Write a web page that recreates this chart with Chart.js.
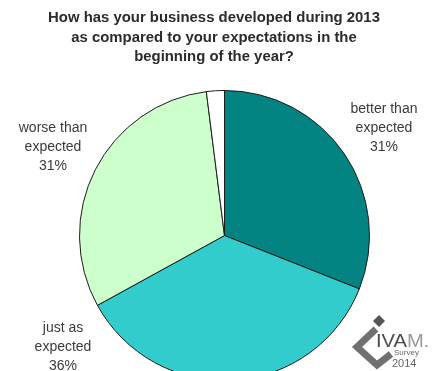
<!DOCTYPE html>
<html>
<head>
<meta charset="utf-8">
<script src="https://cdn.jsdelivr.net/npm/chart.js@4/dist/chart.umd.min.js"></script>
<style>
  html, body { margin:0; padding:0; background:#fff; overflow:hidden; }
  #wrap { width:432px; height:371px; overflow:hidden; position:relative; }
</style>
</head>
<body>
<div id="wrap"><canvas id="pie" width="432" height="400"></canvas></div>
<script>
// données
const categories = ['better than expected', 'just as expected', 'worse than expected', 'no answer'];
const valeurs = [31, 36, 31, 2];
const couleurs = ['#038382', '#33cccc', '#ccffcc', '#ffffff'];
const titre = ['How has your business developed during 2013',
               'as compared to your expectations in the',
               'beginning of the year?'];
// étiquettes : lignes de texte + position du centre de la 1re ligne
const etiquettes = [
  { lignes: ['better than', 'expected', valeurs[0] + '%'], x: 384, y: 109 },
  { lignes: ['just as', 'expected', valeurs[1] + '%'], x: 63, y: 328 },
  { lignes: ['worse than', 'expected', valeurs[2] + '%'], x: 53, y: 128 }
];

// titre, étiquettes et logo
const textes = {
  id: 'textes',
  afterDraw(chart) {
    const ctx = chart.ctx;
    ctx.save();
    ctx.textAlign = 'center';
    ctx.textBaseline = 'middle';
    ctx.fillStyle = '#2b2b2b';
    ctx.font = 'bold 14.9px "Liberation Sans", Arial, sans-serif';
    titre.forEach((l, i) => ctx.fillText(l, 214, 18 + i * 19.5));

    ctx.fillStyle = '#3a3a3a';
    ctx.font = '14px "Liberation Sans", Arial, sans-serif';
    etiquettes.forEach(e => {
      e.lignes.forEach((l, i) => ctx.fillText(l, e.x, e.y + i * 19.3));
    });

    // logo IVAM
    ctx.strokeStyle = '#707070';
    ctx.lineWidth = 7;
    ctx.lineJoin = 'miter';
    ctx.beginPath();
    ctx.moveTo(376, 329);
    ctx.lineTo(357, 347);
    ctx.lineTo(377, 365);
    ctx.lineTo(391, 354);
    ctx.stroke();
    ctx.fillStyle = '#555';
    ctx.beginPath();
    ctx.moveTo(379, 315); ctx.lineTo(385, 321); ctx.lineTo(379, 327); ctx.lineTo(373, 321);
    ctx.closePath(); ctx.fill();

    ctx.textAlign = 'left';
    ctx.textBaseline = 'alphabetic';
    ctx.save();
    ctx.translate(376, 347);
    ctx.scale(1.12, 1);
    ctx.font = '18px "Liberation Sans", Arial, sans-serif';
    ctx.fillStyle = '#4a4a4a';
    ctx.fillText('IVA', 0, 0);
    const w = ctx.measureText('IVA').width;
    ctx.fillStyle = '#9a9a9a';
    ctx.fillText('M.', w, 0);
    ctx.restore();
    ctx.fillStyle = '#666';
    ctx.font = '8px "Liberation Sans", Arial, sans-serif';
    ctx.fillText('Survey', 394, 355);
    ctx.font = '11px "Liberation Sans", Arial, sans-serif';
    ctx.fillText('2014', 392, 367);
    ctx.restore();
  }
};

new Chart(document.getElementById('pie'), {
  type: 'pie',
  data: {
    labels: categories,
    datasets: [{
      data: valeurs,
      backgroundColor: couleurs,
      borderColor: '#1c1c1c',
      borderWidth: 1
    }]
  },
  options: {
    responsive: false,
    animation: false,
    layout: { padding: { left: 79, right: 62, top: 90, bottom: 19 } },
    plugins: { legend: { display: false }, tooltip: { enabled: false } }
  },
  plugins: [textes]
});
</script>
</body>
</html>
